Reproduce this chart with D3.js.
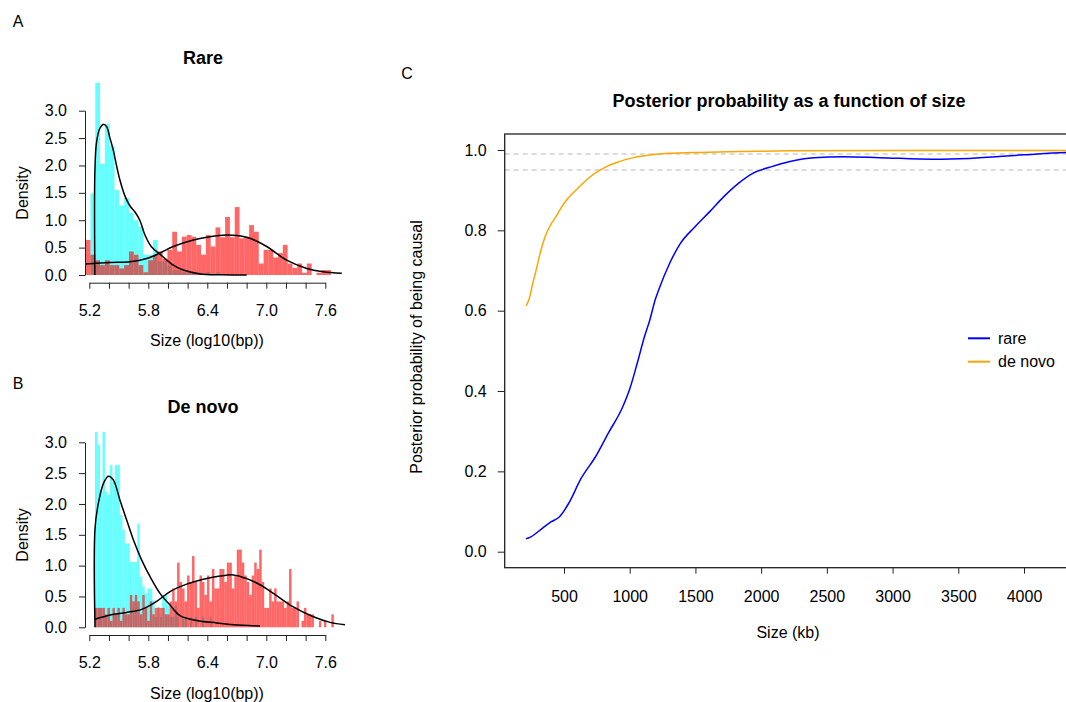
<!DOCTYPE html>
<html>
<head>
<meta charset="utf-8">
<script src="https://cdn.jsdelivr.net/npm/d3@7"></script>
<style>
  body { margin: 0; background: #fff; }
  svg text { font-family: "Liberation Sans", Arial, Helvetica, sans-serif; fill: #000; }
</style>
</head>
<body>
<svg id="chart" width="1066" height="702"></svg>
<script>
// ---------------- data ----------------
// log10(bp) axis ticks (every 0.2) and the ones carrying a label
const logTicks = [5.2, 5.4, 5.6, 5.8, 6.0, 6.2, 6.4, 6.6, 6.8, 7.0, 7.2, 7.4, 7.6];
const logTickLabels = ["5.2", "5.8", "6.4", "7.0", "7.6"];
const densityTicks = [0, 0.5, 1.0, 1.5, 2.0, 2.5, 3.0];

// Rare CNVs: histogram bins (log10 bp)
const rareBinStart = 5.163;
const rareBinWidth = 0.0489;
// cyan histogram starts one bin after the red one (leading zero)
const rareCyanDensity = [0, 1.49, 3.51, 2.03, 2.76, 2.36, 1.55, 1.27, 1.41, 1.14, 1.0, 0.88, 0.37, 0.37,
  0.64, 0.25, 0.25, 0.18, 0.09, 0.09, 0.05, 0.05, 0.05, 0.05, 0, 0.05, 0, 0.05];
const rareRedDensity = [0.64, 0.37, 0.27, 0.18, 0.27, 0.18, 0.18, 0.12, 0.18, 0.43, 0.37, 0.18, 0.05, 0.27,
  0.37, 0.43, 0.30, 0.46, 0.79, 0.43, 0.70, 0.73, 0.70, 0.55, 0.37, 0.73, 0.52, 0.87, 0.69, 1.06, 0.69,
  1.24, 0.67, 0.70, 0.91, 0.79, 0.21, 0.46, 0.46, 0.32, 0.40, 0.55, 0.21, 0.13, 0.21, 0.04, 0.21, 0,
  0.04, 0.09, 0.09];
const rareCyanCurve = [[5.257, 0], [5.257, 1.9], [5.274, 2.43], [5.308, 2.68], [5.342, 2.75], [5.376, 2.71],
  [5.41, 2.5], [5.444, 2.28], [5.478, 1.99], [5.512, 1.73], [5.563, 1.44], [5.614, 1.26], [5.665, 1.15],
  [5.716, 0.99], [5.766, 0.73], [5.834, 0.51], [5.919, 0.38], [6.038, 0.2], [6.156, 0.09], [6.326, 0.02],
  [6.55, 0.004], [6.801, 0]];
const rareRedCurve = [[5.163, 0.2], [5.411, 0.23], [5.614, 0.24], [5.784, 0.3], [5.916, 0.4], [6.054, 0.52],
  [6.258, 0.64], [6.427, 0.7], [6.597, 0.73], [6.699, 0.72], [6.834, 0.67], [7.004, 0.52], [7.207, 0.27],
  [7.411, 0.12], [7.58, 0.06], [7.767, 0.03]];

// De novo CNVs: histogram bins (log10 bp)
const denovoBinStart = 5.258;
const denovoBinWidth = 0.0253;
const denovoCyanDensity = [3.17, 2.96, 2.2, 3.17, 2.2, 2.15, 2.63, 2.36, 2.63, 2.63, 1.82, 1.58, 1.36, 1.36,
  1.06, 1.06, 1.06, 1.68, 0.82, 0.66, 0.55, 0.63, 0.63, 0.44, 0.17, 0.33, 0.17, 0.52, 0.52, 0.35, 0.17,
  0.17, 0.35, 0.17, 0, 0.17, 0.17, 0, 0.17, 0, 0.17, 0, 0, 0.17, 0, 0, 0.17];
const denovoRedDensity = [0.315, 0.315, 0.315, 0.315, 0.21, 0.315, 0.105, 0.315, 0.21, 0.315, 0.105, 0.315,
  0.21, 0.21, 0.525, 0.42, 0.525, 0.42, 0.21, 0.525, 0.315, 0.105, 0.42, 0.21,
  0.315, 0.315, 0.315, 0.315, 0.21, 0.21, 0.42, 0.63, 0.42, 1.05, 0.735, 0.63, 0.42, 0.84, 0.735, 1.155,
  0.735, 0.315, 0.84, 0.735, 0.525, 0.84, 0.42, 0.945, 0.63, 0.63, 0.945, 0.945, 0.735, 1.05, 1.05, 0.63,
  0.84, 1.26, 1.26, 1.05, 0.84, 0.735, 0.525, 0.84, 1.05, 0.945, 1.26, 0.735, 0.315, 0.315, 0.63, 0.42,
  0.63, 0.42, 0.42, 0.42, 0.315, 0.42, 0.945, 0.315, 0.315, 0.42, 0, 0.105, 0.315, 0.21, 0.21, 0.21, 0, 0,
  0.105, 0, 0.105, 0, 0, 0.21];
const denovoCyanCurve = [[5.258, 0], [5.258, 1.6], [5.292, 2.01], [5.343, 2.33], [5.394, 2.45], [5.444, 2.39],
  [5.512, 2.06], [5.58, 1.74], [5.648, 1.42], [5.733, 1.09], [5.818, 0.82], [5.919, 0.55], [6.021, 0.36],
  [6.122, 0.19], [6.292, 0.11], [6.496, 0.07], [6.664, 0.04], [6.936, 0.02]];
const denovoRedCurve = [[5.258, 0.13], [5.411, 0.2], [5.58, 0.24], [5.733, 0.29], [5.885, 0.42], [6.021, 0.58],
  [6.19, 0.7], [6.36, 0.78], [6.529, 0.83], [6.665, 0.85], [6.801, 0.79], [6.936, 0.69], [7.072, 0.55],
  [7.275, 0.33], [7.479, 0.17], [7.648, 0.08], [7.8, 0.04]];

// Posterior probability of being causal vs CNV size (kb)
const sizeTicks = [500, 1000, 1500, 2000, 2500, 3000, 3500, 4000];
const probTicks = [0, 0.2, 0.4, 0.6, 0.8, 1.0];
const thresholds = [0.99, 0.95];
const rareSizeKb = [211, 230, 342, 400, 466, 535, 631, 741, 837, 947, 1002, 1057, 1112, 1153, 1194, 1221, 1304,
  1387, 1497, 1607, 1716, 1827, 1936, 2074, 2211, 2403, 2623, 2897, 3310, 3585, 3997, 4321, 4450];
const rareProb = [0.032, 0.034, 0.06, 0.074, 0.087, 0.12, 0.183, 0.237, 0.295, 0.361, 0.407, 0.469, 0.535,
  0.577, 0.627, 0.652, 0.718, 0.768, 0.809, 0.846, 0.884, 0.917, 0.942, 0.958, 0.971, 0.981, 0.983, 0.981,
  0.977, 0.979, 0.988, 0.994, 0.995];
const denovoSizeKb = [211, 233, 260, 288, 320, 356, 395, 439, 480, 521, 575, 631, 690, 755, 830, 919, 1030,
  1167, 1340, 1524, 1850, 2211, 3000, 4450];
const denovoProb = [0.612, 0.627, 0.665, 0.701, 0.745, 0.784, 0.812, 0.834, 0.857, 0.876, 0.895, 0.913, 0.931,
  0.946, 0.96, 0.971, 0.981, 0.988, 0.992, 0.994, 0.996, 0.998, 0.999, 0.999];
const seriesNames = ["rare", "de novo"];
const seriesColors = ["#0000ff", "#ffa500"];

// ---------------- drawing ----------------
const svg = d3.select("#chart");
const FONT = 16;
const CYAN = "rgba(0,255,255,0.6)";
const RED = "rgba(255,0,0,0.6)";
const AXIS = "#222";

function styleAxis(g) {
  g.selectAll("path.domain").attr("stroke", AXIS).attr("stroke-width", 1);
  g.selectAll(".tick line").attr("stroke", AXIS).attr("stroke-width", 1);
  g.selectAll(".tick text").attr("font-size", FONT).attr("fill", "#000")
    .attr("font-family", '"Liberation Sans", Arial, sans-serif');
}

const xLog = d3.scaleLinear().domain([5.2, 7.6]).range([89.3, 325.3]);

function histogramPanel(opts) {
  const { y, axisY, title, titleY, letter, letterY, start, width, cyan, red, cyanCurve, redCurve, labelY } = opts;
  const g = svg.append("g");

  const bins = vals => vals.map((v, i) => ({
    x0: start + i * width,
    x1: start + (i + 1) * width,
    v
  })).filter(d => d.v > 0);

  g.append("g").selectAll("rect").data(bins(cyan)).join("rect")
    .attr("x", d => xLog(d.x0)).attr("width", d => xLog(d.x1) - xLog(d.x0))
    .attr("y", d => y(d.v)).attr("height", d => y(0) - y(d.v))
    .attr("fill", CYAN);
  g.append("g").selectAll("rect").data(bins(red)).join("rect")
    .attr("x", d => xLog(d.x0)).attr("width", d => xLog(d.x1) - xLog(d.x0))
    .attr("y", d => y(d.v)).attr("height", d => y(0) - y(d.v))
    .attr("fill", RED);

  const line = d3.line().x(d => xLog(d[0])).y(d => y(d[1])).curve(d3.curveCatmullRom.alpha(0.5));
  [cyanCurve, redCurve].forEach(c => {
    g.append("path").attr("d", line(c)).attr("fill", "none")
      .attr("stroke", "#000").attr("stroke-width", 1.5);
  });

  const labelSet = new Set(logTickLabels);
  const xa = g.append("g").attr("transform", `translate(0,${axisY})`)
    .call(d3.axisBottom(xLog).tickValues(logTicks)
      .tickFormat(d => labelSet.has(d.toFixed(1)) ? d.toFixed(1) : "")
      .tickSize(6).tickSizeOuter(0).tickPadding(15.5));
  styleAxis(xa);

  const ya = g.append("g").attr("transform", "translate(85,0)")
    .call(d3.axisLeft(y).tickValues(densityTicks).tickFormat(d3.format(".1f"))
      .tickSize(6).tickSizeOuter(0).tickPadding(12));
  styleAxis(ya);

  g.append("text").attr("x", 207).attr("y", axisY + 58).attr("text-anchor", "middle")
    .attr("dominant-baseline", "central").attr("font-size", FONT).text("Size (log10(bp))");
  g.append("text").attr("transform", `translate(22,${labelY}) rotate(-90)`).attr("text-anchor", "middle")
    .attr("dominant-baseline", "central").attr("font-size", FONT).text("Density");
  g.append("text").attr("x", 203).attr("y", titleY).attr("text-anchor", "middle")
    .attr("dominant-baseline", "central").attr("font-size", 18).attr("font-weight", "bold").text(title);
  g.append("text").attr("x", 18).attr("y", letterY).attr("text-anchor", "middle")
    .attr("dominant-baseline", "central").attr("font-size", FONT).text(letter);
}

histogramPanel({
  y: d3.scaleLinear().domain([0, 3]).range([275, 110.7]),
  axisY: 282.7, title: "Rare", titleY: 58, letter: "A", letterY: 21, labelY: 193,
  start: rareBinStart, width: rareBinWidth,
  cyan: rareCyanDensity, red: rareRedDensity,
  cyanCurve: rareCyanCurve, redCurve: rareRedCurve
});
histogramPanel({
  y: d3.scaleLinear().domain([0, 3]).range([627.3, 442.3]),
  axisY: 635, title: "De novo", titleY: 407, letter: "B", letterY: 383, labelY: 535,
  start: denovoBinStart, width: denovoBinWidth,
  cyan: denovoCyanDensity, red: denovoRedDensity,
  cyanCurve: denovoCyanCurve, redCurve: denovoRedCurve
});

// ---------- panel C ----------
const box = { left: 504.7, right: 1073, top: 134, bottom: 567.7 };
const xKb = d3.scaleLinear().domain([500, 4000]).range([564, 1024]);
const yP = d3.scaleLinear().domain([0, 1]).range([551.7, 150]);
const gc = svg.append("g");

gc.append("defs").append("clipPath").attr("id", "plotC")
  .append("rect").attr("x", box.left).attr("y", box.top)
  .attr("width", box.right - box.left).attr("height", box.bottom - box.top);

gc.append("g").attr("clip-path", "url(#plotC)").selectAll("line").data(thresholds).join("line")
  .attr("x1", box.left).attr("x2", box.right)
  .attr("y1", d => yP(d)).attr("y2", d => yP(d))
  .attr("stroke", "#cfcfcf").attr("stroke-width", 1.5).attr("stroke-dasharray", "5,4");

const series = [
  { name: seriesNames[0], color: seriesColors[0], pts: d3.zip(rareSizeKb, rareProb) },
  { name: seriesNames[1], color: seriesColors[1], pts: d3.zip(denovoSizeKb, denovoProb) }
];
const lineC = d3.line().x(d => xKb(d[0])).y(d => yP(d[1])).curve(d3.curveMonotoneX);
gc.append("g").attr("clip-path", "url(#plotC)").selectAll("path").data(series).join("path")
  .attr("d", d => lineC(d.pts)).attr("fill", "none")
  .attr("stroke", d => d.color).attr("stroke-width", 1.5);

gc.append("rect").attr("x", box.left).attr("y", box.top)
  .attr("width", box.right - box.left).attr("height", box.bottom - box.top)
  .attr("fill", "none").attr("stroke", AXIS).attr("stroke-width", 1.3);

const xc = gc.append("g").attr("transform", `translate(0,${box.bottom})`)
  .call(d3.axisBottom(xKb).tickValues(sizeTicks).tickFormat(d3.format("d"))
    .tickSize(6).tickSizeOuter(0).tickPadding(17));
xc.select("path.domain").remove();
styleAxis(xc);
const yc = gc.append("g").attr("transform", `translate(${box.left},0)`)
  .call(d3.axisLeft(yP).tickValues(probTicks).tickFormat(d3.format(".1f"))
    .tickSize(7).tickSizeOuter(0).tickPadding(11));
yc.select("path.domain").remove();
styleAxis(yc);

gc.append("text").attr("x", 789).attr("y", 101).attr("text-anchor", "middle")
  .attr("dominant-baseline", "central").attr("font-size", 18).attr("font-weight", "bold")
  .text("Posterior probability as a function of size");
gc.append("text").attr("x", 788).attr("y", 632).attr("text-anchor", "middle")
  .attr("dominant-baseline", "central").attr("font-size", FONT).text("Size (kb)");
gc.append("text").attr("transform", "translate(416,347) rotate(-90)").attr("text-anchor", "middle")
  .attr("dominant-baseline", "central").attr("font-size", FONT).text("Posterior probability of being causal");
gc.append("text").attr("x", 407).attr("y", 73).attr("text-anchor", "middle")
  .attr("dominant-baseline", "central").attr("font-size", FONT).text("C");

const legend = gc.append("g").selectAll("g").data(series).join("g")
  .attr("transform", (d, i) => `translate(968,${338.3 + i * 23.4})`);
legend.append("line").attr("x1", 0).attr("x2", 22).attr("stroke", d => d.color).attr("stroke-width", 2);
legend.append("text").attr("x", 30).attr("dominant-baseline", "central").attr("font-size", FONT)
  .text(d => d.name);
</script>
</body>
</html>
